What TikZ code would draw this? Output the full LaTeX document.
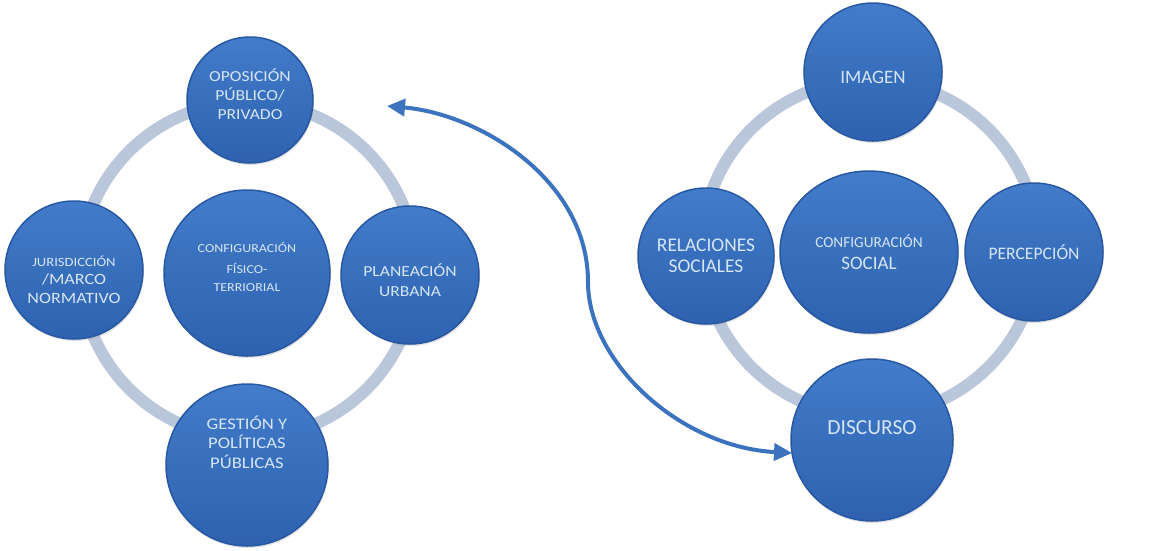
\documentclass[tikz,border=0pt]{standalone}
\usepackage{fontspec}
\usepackage{graphicx}
\setmainfont{Carlito}
\usetikzlibrary{arrows.meta,shapes.geometric,shadows}
\definecolor{ringc}{RGB}{186,199,219}
\definecolor{btop}{RGB}{66,124,202}
\definecolor{bbot}{RGB}{46,98,176}
\definecolor{brim}{RGB}{40,88,162}
\definecolor{txtc}{RGB}{214,229,246}
\definecolor{arrc}{RGB}{60,115,190}
\newcommand{\wide}[2]{\scalebox{#1}[1]{\begin{tabular}{@{}c@{}}#2\end{tabular}}}
\begin{document}
\begin{tikzpicture}[x=1pt,y=-1pt,
  ball/.style={circle, draw=brim, line width=1.5pt, top color=btop, bottom color=bbot,
    inner sep=0pt, minimum size=#1,
    drop shadow={opacity=0.22,shadow xshift=1pt,shadow yshift=-2pt}},
  oval/.style={ellipse, draw=brim, line width=1.5pt, top color=btop, bottom color=bbot,
    inner sep=0pt,
    drop shadow={opacity=0.22,shadow xshift=1pt,shadow yshift=-2pt}},
  txt/.style={text=txtc, align=center, inner sep=0pt},
  ring/.style={draw=ringc, line width=12pt},
  link/.style={draw=arrc, line width=4pt,
    {Triangle[length=18pt,width=17pt]}-{Triangle[length=18pt,width=17pt]}}]
\useasboundingbox (0,0) rectangle (1165,550);

% ---------- left diagram ----------
\draw[ring] (248,270) circle[radius=168];
\node[ball=126pt] (op) at (250,100) {};
\node[txt, font=\fontsize{15.3}{19}\selectfont] (opt) at (250,97) {\wide{1.15}{OPOSICIÓN\\PÚBLICO/\\PRIVADO}};
\node[ball=138pt] (ju) at (74,270) {};
\node[txt, font=\fontsize{15.7}{18.5}\selectfont] (jut) at (74,281) {\wide{1.15}{{\fontsize{12.7}{18.5}\selectfont JURISDICCIÓN}\\/MARCO\\NORMATIVO}};
\node[ball=166pt] (cf) at (247,273) {};
\node[txt, font=\fontsize{12.2}{18}\selectfont] (cft) at (247,268) {\wide{1.15}{CONFIGURACIÓN\\[3pt]FÍSICO-\\TERRIORIAL}};
\node[ball=138pt] (pl) at (410,275) {};
\node[txt, font=\fontsize{15.3}{20}\selectfont] (plt) at (410,282) {\wide{1.15}{PLANEACIÓN\\URBANA}};
\node[ball=162pt] (ge) at (247,465) {};
\node[txt, font=\fontsize{16.2}{18.5}\selectfont] (get) at (247,445) {\wide{1.15}{GESTIÓN Y\\POLÍTICAS\\PÚBLICAS}};

% ---------- right diagram ----------
\draw[ring] (870,248) circle[radius=168];
\node[ball=138pt] (im) at (873,72) {};
\node[txt, font=\fontsize{19}{22}\selectfont] (imt) at (873,77) {IMAGEN};
\node[ball=136pt] (re) at (706,256) {};
\node[txt, font=\fontsize{19.4}{20.5}\selectfont] (ret) at (706,256) {RELACIONES\\SOCIALES};
\node[oval, minimum width=178pt, minimum height=162pt] (cs) at (869,252) {};
\node[txt, font=\fontsize{15.3}{22}\selectfont] (cst) at (869,252) {CONFIGURACIÓN\\{\fontsize{19}{22}\selectfont SOCIAL}};
\node[ball=138pt] (pe) at (1034,252) {};
\node[txt, font=\fontsize{17.6}{20}\selectfont] (pet) at (1034,252) {PERCEPCIÓN};
\node[ball=162pt] (di) at (872,440) {};
\node[txt, font=\fontsize{21.5}{24}\selectfont] (dit) at (872,428) {DISCURSO};

% ---------- connector ----------
\coordinate (a1) at (387,106);
\coordinate (am) at (588,282);
\coordinate (a2) at (792,453);
\draw[link] (a1) .. controls (480,114) and (588,180) .. (am)
            .. controls (588,362) and (680,447) .. (a2);
\end{tikzpicture}
\end{document}
